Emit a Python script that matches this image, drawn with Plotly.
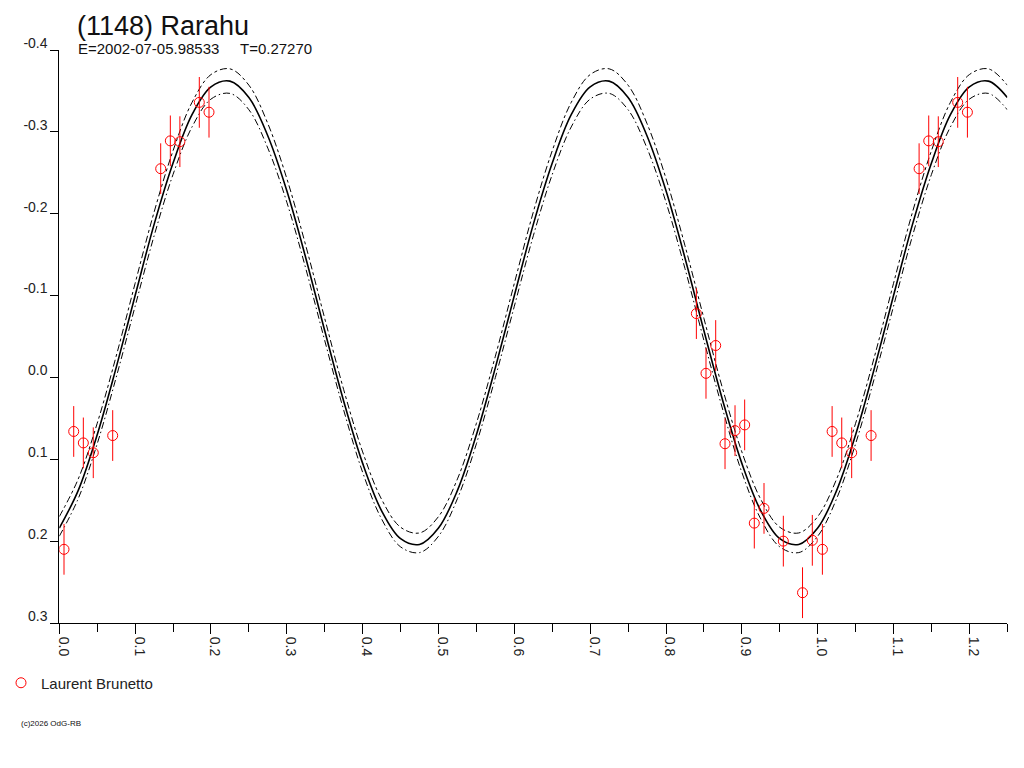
import plotly.graph_objects as go

# ---------------- data ----------------
# observations (phase, reduced magnitude, error) - Laurent Brunetto
obs_phase = [0.0062, 0.0190, 0.0317, 0.0448, 0.0704, 0.1337, 0.1464, 0.1590,
             0.1846, 0.1974, 0.8400, 0.8527, 0.8655, 0.8778, 0.8910, 0.9037,
             0.9164, 0.9292, 0.9547, 0.9800, 0.9929]
obs_mag = [0.210, 0.066, 0.080, 0.092, 0.071, -0.255, -0.289, -0.288,
           -0.336, -0.324, -0.078, -0.005, -0.039, 0.081, 0.065, 0.058,
           0.178, 0.160, 0.200, 0.263, 0.199]
obs_err = [0.031, 0.031, 0.031, 0.031, 0.031, 0.031, 0.031, 0.031,
           0.031, 0.031, 0.031, 0.031, 0.031, 0.031, 0.031, 0.031,
           0.031, 0.031, 0.031, 0.031, 0.031]

curve_phase = [0.000, 0.025, 0.050, 0.075, 0.100, 0.125, 0.150, 0.175, 0.200, 0.225,
               0.250, 0.275, 0.300, 0.325, 0.350, 0.375, 0.400, 0.425, 0.450, 0.475,
               0.500, 0.525, 0.550, 0.575, 0.600, 0.625, 0.650, 0.675, 0.700, 0.725,
               0.750, 0.775, 0.800, 0.825, 0.850, 0.875, 0.900, 0.925, 0.950, 0.975,
               1.000, 1.025, 1.050, 1.075, 1.100, 1.125, 1.150, 1.175, 1.200, 1.225,
               1.250]
curve_mid = [0.184, 0.138, 0.070, -0.012, -0.100, -0.187, -0.262, -0.321, -0.355, -0.362,
             -0.342, -0.295, -0.228, -0.146, -0.057, 0.029, 0.105, 0.163, 0.197, 0.204,
             0.184, 0.138, 0.070, -0.012, -0.100, -0.187, -0.262, -0.321, -0.355, -0.362,
             -0.342, -0.295, -0.228, -0.146, -0.057, 0.029, 0.105, 0.163, 0.197, 0.204,
             0.184, 0.138, 0.070, -0.012, -0.100, -0.187, -0.262, -0.321, -0.355, -0.362,
             -0.342]
curve_upper = [0.170, 0.124, 0.056, -0.026, -0.115, -0.202, -0.277, -0.336, -0.370, -0.377,
               -0.357, -0.310, -0.243, -0.161, -0.072, 0.015, 0.091, 0.149, 0.183, 0.190,
               0.170, 0.124, 0.056, -0.026, -0.115, -0.202, -0.277, -0.336, -0.370, -0.377,
               -0.357, -0.310, -0.243, -0.161, -0.072, 0.015, 0.091, 0.149, 0.183, 0.190,
               0.170, 0.124, 0.056, -0.026, -0.115, -0.202, -0.277, -0.336, -0.370, -0.377,
               -0.357]
curve_lower = [0.194, 0.148, 0.081, 0.000, -0.087, -0.173, -0.248, -0.306, -0.340, -0.347,
               -0.327, -0.280, -0.214, -0.133, -0.045, 0.040, 0.116, 0.173, 0.207, 0.214,
               0.194, 0.148, 0.081, 0.000, -0.087, -0.173, -0.248, -0.306, -0.340, -0.347,
               -0.327, -0.280, -0.214, -0.133, -0.045, 0.040, 0.116, 0.173, 0.207, 0.214,
               0.194, 0.148, 0.081, 0.000, -0.087, -0.173, -0.248, -0.306, -0.340, -0.347,
               -0.327]

x_tickvals = [0.0, 0.1, 0.2, 0.3, 0.4, 0.5, 0.6, 0.7, 0.8, 0.9, 1.0, 1.1, 1.2]
x_ticktext = ["0.0", "0.1", "0.2", "0.3", "0.4", "0.5", "0.6", "0.7", "0.8", "0.9", "1.0", "1.1", "1.2"]
x_minorvals = [0.05, 0.15, 0.25, 0.35, 0.45, 0.55, 0.65, 0.75, 0.85, 0.95, 1.05, 1.15, 1.25]
y_tickvals = [-0.4, -0.3, -0.2, -0.1, 0.0, 0.1, 0.2, 0.3]
y_ticktext = ["-0.4", "-0.3", "-0.2", "-0.1", "0.0", "0.1", "0.2", "0.3"]

title_text = "(1148) Rarahu"
epoch_text = "E=2002-07-05.98533"
period_text = "T=0.27270"
observer = "Laurent Brunetto"
copyright_text = "(c)2026 OdG-RB"

# ---------------- build figure ----------------
X_MAX = 1.25
px_x, px_y, px_e = [], [], []
for p, m, e in zip(obs_phase, obs_mag, obs_err):
    px_x.append(p); px_y.append(m); px_e.append(e)
for p, m, e in zip(obs_phase, obs_mag, obs_err):
    if p + 1 <= X_MAX:
        px_x.append(p + 1); px_y.append(m); px_e.append(e)

FONT = "Liberation Sans, Arial, sans-serif"
OFF = 8                       # page body margin of the browser
W, H = 1024 - OFF, 768 - OFF * 2
# plot area in screen pixels
PL, PR, PT, PB = 59.3, 1007.3, 50, 623


def fx(p):
    return (p - OFF) / W


def fy(p):
    return 1 - (p - OFF) / H


fig = go.Figure()
fig.add_trace(go.Scatter(x=curve_phase, y=curve_upper, mode="lines", line_shape="spline",
                         line=dict(color="black", width=1, dash="7px,3px,3px,3px"),
                         showlegend=False, hoverinfo="skip"))
fig.add_trace(go.Scatter(x=curve_phase, y=curve_lower, mode="lines", line_shape="spline",
                         line=dict(color="black", width=1, dash="7px,3px,1.5px,3px"),
                         showlegend=False, hoverinfo="skip"))
fig.add_trace(go.Scatter(x=curve_phase, y=curve_mid, mode="lines", line_shape="spline",
                         line=dict(color="black", width=1.6),
                         showlegend=False, hoverinfo="skip"))
fig.add_trace(go.Scatter(x=px_x, y=px_y, mode="markers", name=observer,
                         marker=dict(symbol="circle-open", size=10, color="#ff0000",
                                     line=dict(width=1, color="#ff0000")),
                         error_y=dict(type="data", array=px_e, visible=True,
                                      color="#ff0000", thickness=1, width=0)))

annots = [
    dict(text=title_text, x=fx(75), y=fy(OFF + 0.5), yanchor="top", font=dict(size=27)),
    dict(text=epoch_text, x=fx(76), y=fy(48), font=dict(size=15)),
    dict(text=period_text, x=fx(238), y=fy(48), font=dict(size=15)),
    dict(text=copyright_text, x=fx(19), y=fy(723), font=dict(size=8)),
]
for a in annots:
    a.setdefault("yanchor", "middle")
    a.update(xref="paper", yref="paper", xanchor="left", showarrow=False)
    a["font"].update(family=FONT, color="#111")

fig.update_layout(
    width=W, height=H,
    margin=dict(l=0, r=0, t=0, b=0, pad=0, autoexpand=False),
    paper_bgcolor="white", plot_bgcolor="white",
    font=dict(family=FONT, size=14, color="#222"),
    annotations=annots,
    showlegend=True,
    legend=dict(x=fx(1), y=fy(683), xanchor="left", yanchor="middle",
                font=dict(size=15, family=FONT, color="#222"),
                bgcolor="rgba(0,0,0,0)", borderwidth=0),
    xaxis=dict(domain=[fx(PL), fx(PR)], range=[0, X_MAX], automargin=False,
               showgrid=False, zeroline=False,
               showline=True, linecolor="black", linewidth=1,
               tickmode="array", tickvals=x_tickvals, ticktext=x_ticktext,
               ticks="outside", ticklen=10, tickcolor="black", tickwidth=1,
               tickangle=90, ticklabelshift=4,
               minor=dict(tickmode="array", tickvals=x_minorvals, ticks="outside",
                          ticklen=8, tickcolor="black", tickwidth=1, showgrid=False)),
    yaxis=dict(domain=[fy(PB), fy(PT)], range=[0.3, -0.4], automargin=False,
               showgrid=False, zeroline=False,
               showline=True, linecolor="black", linewidth=1,
               tickmode="array", tickvals=y_tickvals, ticktext=y_ticktext,
               ticks="outside", ticklen=8, tickcolor="black", tickwidth=1,
               ticklabelshift=7),
)

fig.write_html("out.html")
